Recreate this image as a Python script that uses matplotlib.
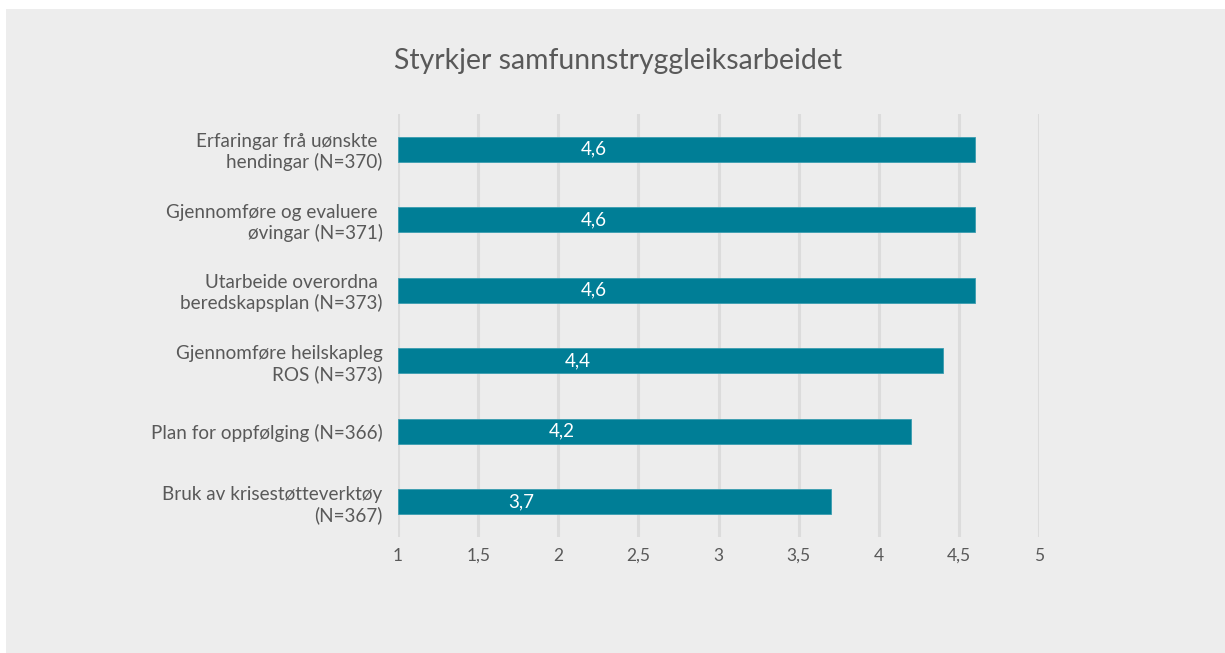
import matplotlib
matplotlib.use("Agg")
import matplotlib.pyplot as plt

plt.rcParams['font.family'] = ['Lato', 'DejaVu Sans']

categories = [
    "Erfaringar frå uønskte \nhendingar (N=370)",
    "Gjennomføre og evaluere \nøvingar (N=371)",
    "Utarbeide overordna \nberedskapsplan (N=373)",
    "Gjennomføre heilskapleg\nROS (N=373)",
    "Plan for oppfølging (N=366)",
    "Bruk av krisestøtteverktøy\n(N=367)",
]
values = [4.6, 4.6, 4.6, 4.4, 4.2, 3.7]
value_labels = ["4,6", "4,6", "4,6", "4,4", "4,2", "3,7"]
xticks = [1, 1.5, 2, 2.5, 3, 3.5, 4, 4.5, 5]
xtick_labels = ["1", "1,5", "2", "2,5", "3", "3,5", "4", "4,5", "5"]
title = "Styrkjer samfunnstryggleiksarbeidet"

bg = "#ededed"
bar_color = "#007e96"
text_color = "#595959"

fig = plt.figure(figsize=(12.25, 6.53), dpi=100)
fig.patch.set_facecolor("white")
# grey panel behind the chart
fig.patches.append(plt.Rectangle((6 / 1225, 0), 1 - 6 / 1225, 1 - 9 / 653,
                                 transform=fig.transFigure, facecolor=bg,
                                 edgecolor="none", zorder=-10))

ax = fig.add_axes([398 / 1225, 1 - 537 / 653, (1039 - 398) / 1225, (537 - 114) / 653])
ax.set_facecolor(bg)

y = list(range(len(categories)))
ax.barh(y, [v - 1 for v in values], left=1, height=0.35, color=bar_color,
        edgecolor="#3a9db0", linewidth=0.6, zorder=3)
for yi, v, lab in zip(y, values, value_labels):
    ax.text(v / 2 - 0.08, yi, lab, color="white", fontsize=13.5,
            ha="center", va="center", zorder=4)

ax.set_xlim(1, 5)
ax.set_ylim(len(categories) - 0.5, -0.5)
ax.set_xticks(xticks)
ax.set_xticklabels(xtick_labels, fontsize=12.5, color=text_color)
ax.set_yticks(y)
ax.set_yticklabels(categories, fontsize=13.6, color=text_color, linespacing=1.2)
ax.tick_params(axis="both", length=0)
ax.tick_params(axis="y", pad=11)
ax.tick_params(axis="x", pad=8)
ax.grid(axis="x", color="#dcdcdc", linewidth=2.2, zorder=0)
ax.set_axisbelow(True)
for s in ax.spines.values():
    s.set_visible(False)

fig.text(618 / 1225, 1 - 61 / 653, title, ha="center", va="center",
         fontsize=20.4, color=text_color)

fig.savefig("out.png", dpi=100, facecolor=fig.get_facecolor())
